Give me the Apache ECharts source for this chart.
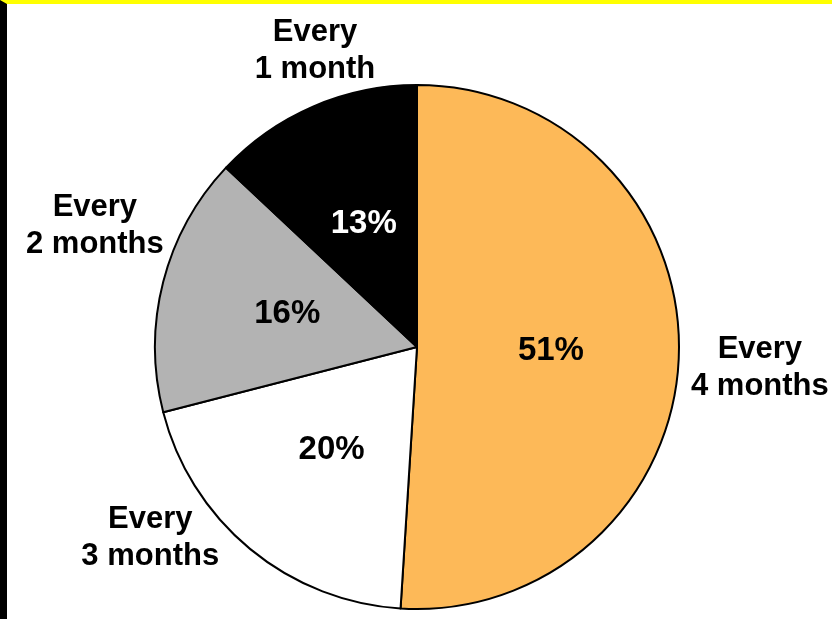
<!DOCTYPE html>
<html>
<head>
<meta charset="utf-8">
<script src="https://cdn.jsdelivr.net/npm/echarts@6/dist/echarts.min.js"></script>
<style>
  html, body { margin: 0; padding: 0; background: #fff; }
  #frame { width: 832px; height: 619px; box-sizing: border-box; border-top: 4px solid #FFFF00; border-left: 7px solid #000; background: #fff; position: relative; }
  #chart { position: absolute; left: -7px; top: -4px; width: 832px; height: 619px; }
</style>
</head>
<body>
<div id="frame"><div id="chart"></div></div>
<script>
// Data
const categories = ['Every\n4 months', 'Every\n3 months', 'Every\n2 months', 'Every\n1 month'];
const shares = [51, 20, 16, 13];
const sliceColors = ['#FDB958', '#FFFFFF', '#B3B3B3', '#000000'];
const pctTextColors = ['#000', '#000', '#000', '#fff'];
// label nudges (layout only)
const nameNudgeX = [56, -82, -44, 15];
const nameNudgeY = [12, -26, -51, -37];

const chart = echarts.init(document.getElementById('chart'), null, { renderer: 'canvas' });
const center = [417, 347];
const radius = 262;

const option = {
  backgroundColor: 'transparent',
  animation: false,
  series: [
    {
      type: 'pie',
      center: center,
      radius: radius,
      startAngle: 90,
      clockwise: true,
      avoidLabelOverlap: false,
      data: categories.map((c, i) => ({
        name: c, value: shares[i],
        itemStyle: { color: sliceColors[i] },
        label: { color: pctTextColors[i] }
      })),
      itemStyle: { borderColor: '#000', borderWidth: 2 },
      label: {
        show: true, position: 'inside',
        formatter: p => p.value + '%',
        fontFamily: 'Liberation Sans, Arial, sans-serif',
        fontWeight: 'bold', fontSize: 33
      },
      labelLine: { show: false },
      emphasis: { disabled: true }
    },
    {
      type: 'pie',
      center: center,
      radius: radius,
      startAngle: 90,
      clockwise: true,
      silent: true,
      avoidLabelOverlap: false,
      data: categories.map((c, i) => ({ name: c, value: shares[i] })),
      itemStyle: { color: 'rgba(0,0,0,0)', borderWidth: 0 },
      label: {
        show: true, position: 'outside',
        formatter: p => p.name,
        color: '#000',
        fontFamily: 'Liberation Sans, Arial, sans-serif',
        fontWeight: 'bold', fontSize: 31, lineHeight: 37,
        align: 'center'
      },
      labelLine: { show: false, length: 20, length2: 0 },
      labelLayout: function (params) {
        return {
          align: 'center',
          verticalAlign: 'middle',
          dx: nameNudgeX[params.dataIndex],
          dy: nameNudgeY[params.dataIndex]
        };
      },
      emphasis: { disabled: true }
    }
  ]
};
chart.setOption(option);
</script>
</body>
</html>
